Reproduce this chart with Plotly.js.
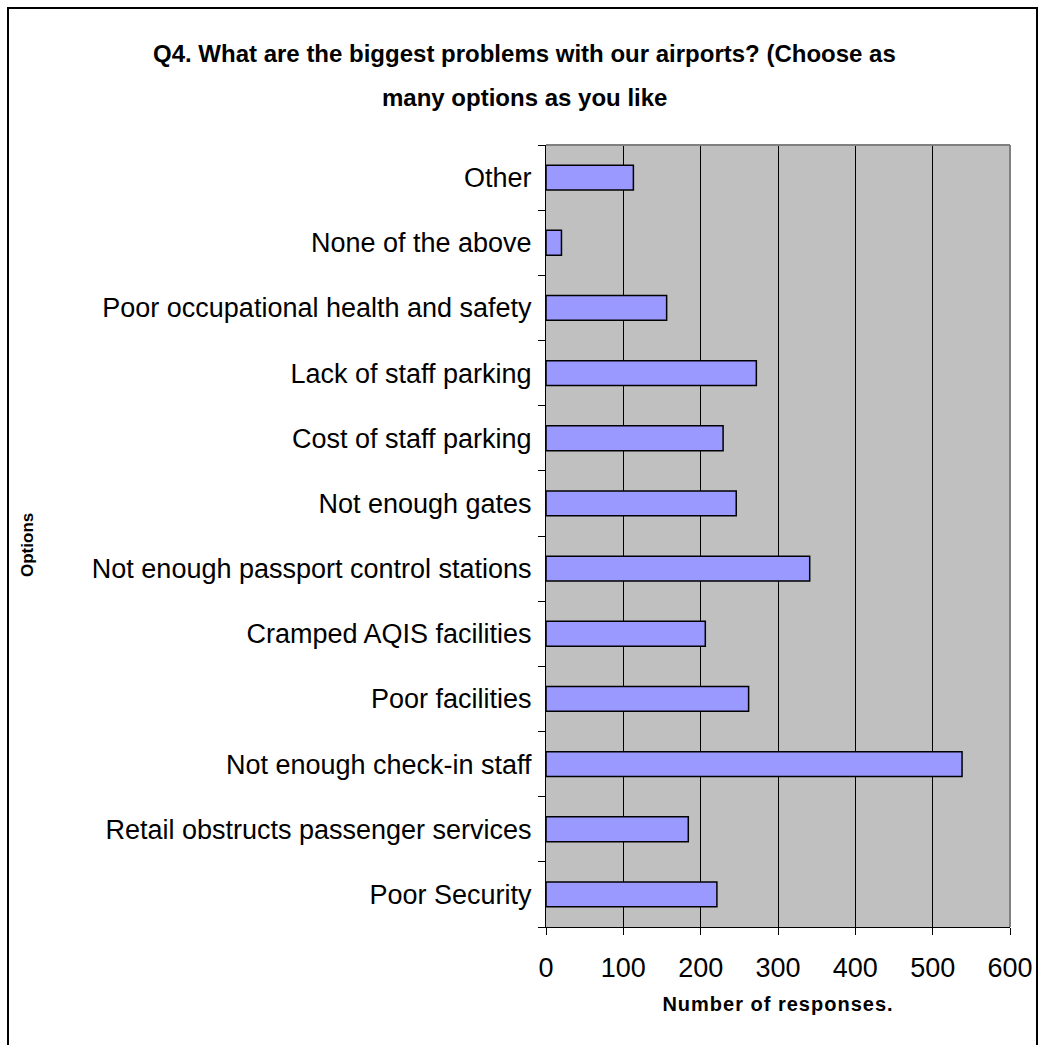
<!DOCTYPE html>
<html>
<head>
<meta charset="utf-8">
<script src="https://cdn.plot.ly/plotly-3.0.1.min.js"></script>
<style>
  html, body { margin: 0; padding: 0; background: #ffffff; }
  #frame { position: absolute; left: 7px; top: 7px; width: 1031px; height: 1045px; border: 2px solid #000; box-sizing: border-box; }
  #chart { position: absolute; left: 0; top: 0; width: 1043px; height: 1045px; }
  .xtitle { letter-spacing: 1px; }
</style>
</head>
<body>
<div id="frame"></div>
<div id="chart"></div>
<script>
const categories = [
  "Poor Security",
  "Retail obstructs passenger services",
  "Not enough check-in staff",
  "Poor facilities",
  "Cramped AQIS facilities",
  "Not enough passport control stations",
  "Not enough gates",
  "Cost of staff parking",
  "Lack of staff parking",
  "Poor occupational health and safety",
  "None of the above",
  "Other"
];
const responses = [221, 184, 538, 262, 206, 341, 246, 229, 272, 156, 20, 113];
const xTicks = [0, 100, 200, 300, 400, 500, 600];
const titleLines = [
  "Q4. What are the biggest problems with our airports? (Choose as",
  "many options as you like"
];

const trace = {
  type: "bar",
  orientation: "h",
  y: categories,
  x: responses,
  marker: { color: "#9999FF", line: { color: "#000000", width: 1.5 } },
  hoverinfo: "x+y"
};

// plot area: left 546, right 1010, top 145, bottom 927
const layout = {
  width: 1043,
  height: 1045,
  paper_bgcolor: "rgba(0,0,0,0)",
  plot_bgcolor: "#C0C0C0",
  font: { family: "Liberation Sans, Arial, sans-serif", color: "#000" },
  margin: { l: 546, r: 33, t: 145, b: 118 },
  bargap: 0.62,
  showlegend: false,
  xaxis: {
    range: [0, 600],
    tickvals: xTicks,
    ticktext: xTicks.map(String),
    showgrid: true, gridcolor: "#000", gridwidth: 1,
    zeroline: false,
    showline: true, linecolor: "#000", linewidth: 1,
    ticks: "outside", ticklen: 7, tickcolor: "#000",
    tickfont: { size: 27 },
    ticklabelstandoff: 10,
    title: { text: "Number of responses.", font: { size: 20, weight: "bold" }, standoff: 14 }
  },
  yaxis: {
    type: "category",
    categoryorder: "array",
    categoryarray: categories,
    showline: true, linecolor: "#000", linewidth: 1,
    ticks: "outside", ticklen: 7, tickcolor: "#000",
    tickson: "boundaries",
    showgrid: false,
    tickfont: { size: 27 },
    ticklabelstandoff: 8,
    title: { text: "" }
  },
  annotations: [
    {
      text: "Options", textangle: -90,
      xref: "paper", yref: "paper", x: (27 - 546) / 464, y: (927 - 545) / 782,
      xanchor: "center", yanchor: "middle", showarrow: false,
      font: { size: 17, weight: "bold" }
    },
    {
      text: titleLines[0],
      xref: "paper", yref: "paper", x: (524 - 546) / 464, y: (927 - 54) / 782,
      xanchor: "center", yanchor: "middle", showarrow: false,
      font: { size: 24, weight: "bold" }
    },
    {
      text: titleLines[1],
      xref: "paper", yref: "paper", x: (524 - 546) / 464, y: (927 - 97) / 782,
      xanchor: "center", yanchor: "middle", showarrow: false,
      font: { size: 24, weight: "bold" }
    }
  ],
  shapes: [
    { type: "line", xref: "paper", yref: "paper", x0: 0, x1: 1, y0: 1, y1: 1, line: { color: "#808080", width: 2 } },
    { type: "line", xref: "paper", yref: "paper", x0: 1, x1: 1, y0: 0, y1: 1, line: { color: "#808080", width: 2 } }
  ]
};

Plotly.newPlot("chart", [trace], layout, { displayModeBar: false, staticPlot: true });
</script>
</body>
</html>
